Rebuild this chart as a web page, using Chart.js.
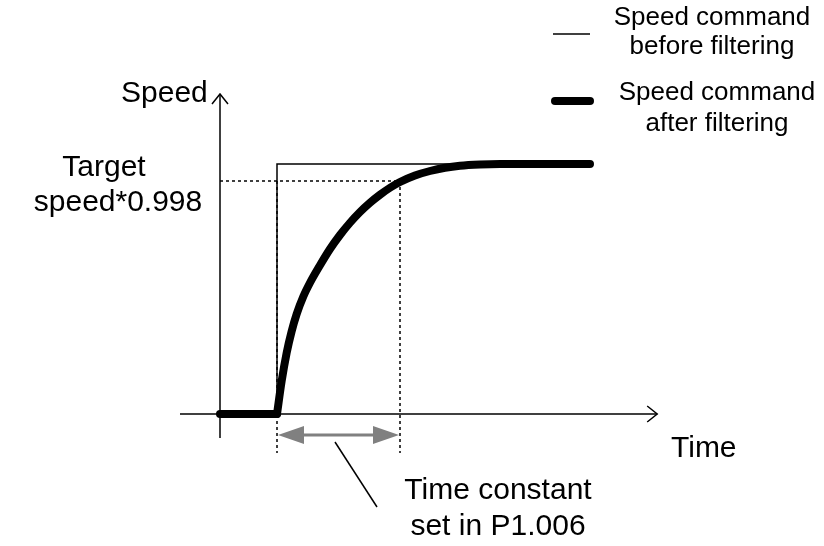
<!DOCTYPE html>
<html>
<head>
<meta charset="utf-8">
<script src="https://cdn.jsdelivr.net/npm/chart.js@4.4.0/dist/chart.umd.min.js"></script>
<style>
  body { margin: 0; background: #fff; }
  #wrap { width: 824px; height: 546px; }
</style>
</head>
<body>
<div id="wrap"><canvas id="filterChart" width="824" height="546"></canvas></div>
<script>
// time in arbitrary units, speed as fraction of target speed
const idleTimes = [0, 1.425];
const idleSpeeds = [0, 0];

const stepTimes = [1.425, 1.425, 9.25];
const stepSpeeds = [0, 1, 1];

const filterTimes = [1.425, 1.54, 1.667, 1.79, 1.917, 2.083, 2.25, 2.5, 2.75, 3.0, 3.25, 3.5, 3.75, 4.0, 4.25, 4.5, 4.875, 5.25, 5.625, 6.0, 6.5, 7.0, 9.25];
const filterSpeeds = [0, 0.13, 0.245, 0.33, 0.40, 0.47, 0.525, 0.595, 0.66, 0.716, 0.765, 0.808, 0.845, 0.877, 0.905, 0.928, 0.954, 0.972, 0.985, 0.993, 0.998, 1.0, 1.0];

const tcStart = 1.425;
const tcEnd = 4.5;
const levelMark = 0.932;      // "Target speed*0.998" line
const markBottom = -0.156;
const arrowSpeed = -0.084;
const leaderTimes = [2.875, 3.925];
const leaderSpeeds = [-0.112, -0.372];

const xAxisSpan = [-1, 10.93];
const yAxisSpan = [-0.096, 1.28];

const labelSpeed = "Speed";
const labelTime = "Time";
const labelTarget = ["Target", "speed*0.998"];
const labelConstant = ["Time constant", "set in P1.006"];
const legendBefore = ["Speed command", "before filtering"];
const legendAfter = ["Speed command", "after filtering"];

const pts = (xs, ys) => xs.map((x, i) => ({ x: x, y: ys[i] }));

const fontFam = 'Arial, "Liberation Sans", sans-serif';

const extras = {
    id: 'extras',
    afterDatasetsDraw(chart) {
        const ctx = chart.ctx;
        const sx = chart.scales.x, sy = chart.scales.y;
        const px = v => sx.getPixelForValue(v);
        const py = v => sy.getPixelForValue(v);
        ctx.save();

        // open arrow heads on the axes
        ctx.strokeStyle = '#000';
        ctx.lineWidth = 1.5;
        ctx.beginPath();
        let ax = px(xAxisSpan[1]), ay = py(0);
        ctx.moveTo(ax - 10, ay - 8); ctx.lineTo(ax, ay); ctx.lineTo(ax - 10, ay + 8);
        ax = px(0); ay = py(yAxisSpan[1]);
        ctx.moveTo(ax - 8, ay + 10); ctx.lineTo(ax, ay); ctx.lineTo(ax + 8, ay + 10);
        ctx.stroke();

        // grey double arrow for the time constant
        const x1 = px(tcStart), x2 = px(tcEnd), yy = py(arrowSpeed);
        const head = 27, half = 9;
        ctx.strokeStyle = '#808080';
        ctx.fillStyle = '#808080';
        ctx.lineWidth = 3;
        ctx.beginPath();
        ctx.moveTo(x1 + head - 2, yy); ctx.lineTo(x2 - head + 2, yy);
        ctx.stroke();
        ctx.beginPath();
        ctx.moveTo(x1 + 1, yy); ctx.lineTo(x1 + head, yy - half); ctx.lineTo(x1 + head, yy + half); ctx.closePath();
        ctx.moveTo(x2 - 1, yy); ctx.lineTo(x2 - head, yy - half); ctx.lineTo(x2 - head, yy + half); ctx.closePath();
        ctx.fill();

        // texts
        ctx.fillStyle = '#000';
        ctx.textBaseline = 'alphabetic';
        ctx.font = '30px ' + fontFam;
        ctx.textAlign = 'left';
        ctx.fillText(labelSpeed, 121, 102);
        ctx.fillText(labelTime, 671, 457);
        ctx.textAlign = 'center';
        ctx.fillText(labelTarget[0], 104, 176);
        ctx.fillText(labelTarget[1], 118, 211);
        ctx.fillText(labelConstant[0], 498, 499);
        ctx.fillText(labelConstant[1], 498, 535);

        // legend
        ctx.font = '26px ' + fontFam;
        ctx.fillText(legendBefore[0], 712, 25);
        ctx.fillText(legendBefore[1], 712, 54);
        ctx.fillText(legendAfter[0], 717, 100);
        ctx.fillText(legendAfter[1], 717, 131);

        ctx.strokeStyle = '#000';
        ctx.lineWidth = 1.5;
        ctx.beginPath();
        ctx.moveTo(553, 34); ctx.lineTo(590, 34);
        ctx.stroke();
        ctx.lineWidth = 8;
        ctx.lineCap = 'round';
        ctx.beginPath();
        ctx.moveTo(555, 101); ctx.lineTo(590, 101);
        ctx.stroke();

        ctx.restore();
    }
};

const thin = { borderColor: '#000', borderWidth: 1.5, pointRadius: 0, showLine: true, fill: false };
const dotted = { borderColor: '#000', borderWidth: 1.5, borderDash: [3, 3], pointRadius: 0, showLine: true, fill: false };

new Chart(document.getElementById("filterChart").getContext("2d"), {
    type: 'scatter',
    data: {
        datasets: [
            {
                label: "after filtering",
                data: pts(filterTimes, filterSpeeds),
                borderColor: '#000',
                borderWidth: 8,
                borderCapStyle: 'round',
                borderJoinStyle: 'round',
                cubicInterpolationMode: 'monotone',
                pointRadius: 0,
                showLine: true,
                order: 0
            },
            {
                label: "idle",
                data: pts(idleTimes, idleSpeeds),
                borderColor: '#000',
                borderWidth: 8,
                borderCapStyle: 'round',
                pointRadius: 0,
                showLine: true,
                order: 1
            },
            Object.assign({ label: "before filtering", data: pts(stepTimes, stepSpeeds), order: 2 }, thin),
            Object.assign({ label: "x axis", data: pts(xAxisSpan, [0, 0]), order: 3 }, thin),
            Object.assign({ label: "y axis", data: pts([0, 0], yAxisSpan), order: 3 }, thin),
            Object.assign({ label: "level", data: pts([0, tcEnd], [levelMark, levelMark]), order: 4 }, dotted),
            Object.assign({ label: "tc end", data: pts([tcEnd, tcEnd], [levelMark, markBottom]), order: 4 }, dotted),
            Object.assign({ label: "tc start", data: pts([tcStart, tcStart], [levelMark, markBottom]), order: 4 }, dotted),
            Object.assign({ label: "leader", data: pts(leaderTimes, leaderSpeeds), order: 4 }, thin)
        ]
    },
    options: {
        responsive: false,
        animation: false,
        layout: { padding: { left: 180, right: 164, top: 89, bottom: 32 } },
        scales: {
            x: { type: 'linear', min: -1, max: 11, display: false },
            y: { type: 'linear', min: -0.4, max: 1.3, display: false }
        },
        plugins: {
            legend: { display: false },
            tooltip: { enabled: false }
        }
    },
    plugins: [extras]
});
</script>
</body>
</html>
